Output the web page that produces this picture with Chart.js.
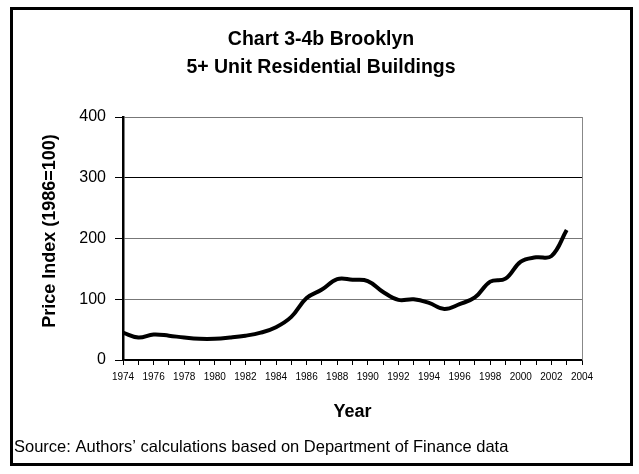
<!DOCTYPE html>
<html>
<head>
<meta charset="utf-8">
<script src="https://cdn.jsdelivr.net/npm/chart.js@4"></script>
<style>
  body { margin: 0; background: #fff; }
  #wrap { width: 639px; height: 474px; position: relative; }
</style>
</head>
<body>
<div id="wrap"><canvas id="chart"></canvas></div>
<script>
const years = [1974, 1975, 1976, 1977, 1978, 1979, 1980, 1981, 1982, 1983,
  1984, 1985, 1986, 1987, 1988, 1989, 1990, 1991, 1992, 1993,
  1994, 1995, 1996, 1997, 1998, 1999, 2000, 2001, 2002, 2003];
const priceIndex = [45, 37, 42, 40, 37, 35, 35, 37, 40, 45,
  54, 71, 102, 116, 133, 132, 130, 112, 99, 100,
  94, 84, 92, 103, 129, 134, 162, 169, 171, 214];
const yTicks = [0, 100, 200, 300, 400];
const titleLines = ['Chart 3-4b Brooklyn', '5+ Unit Residential Buildings'];
const yTitle = 'Price Index (1986=100)';
const sourceText = 'Source: Authors\u2019 calculations based on Department of Finance data';

const FONT = '"Liberation Sans", Arial, sans-serif';

// frame, titles and source note
const decorations = {
  id: 'decorations',
  afterDraw(chart) {
    const ctx = chart.ctx;
    const area = chart.chartArea;
    ctx.save();
    // plot area right edge
    ctx.strokeStyle = '#888';
    ctx.lineWidth = 1;
    ctx.beginPath();
    ctx.moveTo(area.right + 0.5, area.top);
    ctx.lineTo(area.right + 0.5, area.bottom);
    ctx.stroke();
    // outer frame
    ctx.strokeStyle = '#000';
    ctx.lineWidth = 3;
    ctx.strokeRect(11.5, 8.5, 620, 456);
    // chart title
    ctx.fillStyle = '#000';
    ctx.textAlign = 'center';
    ctx.textBaseline = 'middle';
    ctx.font = 'bold 19.5px ' + FONT;
    ctx.fillText(titleLines[0], 321, 40);
    ctx.fillText(titleLines[1], 321, 68);
    // y axis title
    ctx.save();
    ctx.translate(50, 231);
    ctx.rotate(-Math.PI / 2);
    ctx.font = 'bold 18px ' + FONT;
    ctx.fillText(yTitle, 0, 0);
    ctx.restore();
    // source
    ctx.textAlign = 'left';
    ctx.font = '16.5px ' + FONT;
    ctx.fillText(sourceText, 14, 447);
    ctx.restore();
  }
};

new Chart(document.getElementById('chart'), {
  type: 'line',
  data: {
    datasets: [{
      label: 'Price Index',
      data: years.map((y, i) => ({ x: y, y: priceIndex[i] })),
      borderColor: '#000',
      borderWidth: 4,
      pointRadius: 0,
      tension: 0.4,
      fill: false
    }]
  },
  options: {
    responsive: true,
    maintainAspectRatio: false,
    animation: false,
    layout: { padding: { left: 30, right: 57, top: 117, bottom: 50 } },
    plugins: {
      legend: { display: false },
      tooltip: { enabled: false }
    },
    scales: {
      x: {
        type: 'linear',
        min: 1974,
        max: 2004,
        afterFit: (scale) => { scale.height = 64; },
        afterBuildTicks: (scale) => {
          scale.ticks = [];
          for (let y = 1974; y <= 2004; y++) scale.ticks.push({ value: y });
        },
        ticks: {
          autoSkip: false,
          maxRotation: 0,
          padding: 6,
          color: '#000',
          font: { family: FONT, size: 10 },
          callback: (v) => (v % 2 === 0 ? String(v) : '')
        },
        grid: {
          drawOnChartArea: false,
          drawTicks: true,
          tickLength: 5,
          color: '#000'
        },
        border: { color: '#000', width: 1.5 },
        title: {
          display: true,
          text: 'Year',
          color: '#000',
          font: { family: FONT, size: 18, weight: 'bold' },
          padding: { top: 0, bottom: 1 }
        }
      },
      y: {
        min: 0,
        max: 400,
        afterFit: (scale) => { scale.width = 93; },
        afterBuildTicks: (scale) => {
          scale.ticks = yTicks.map((v) => ({ value: v }));
        },
        ticks: {
          padding: 9,
          color: '#000',
          font: { family: FONT, size: 16 }
        },
        grid: {
          drawTicks: true,
          tickLength: 8,
          tickColor: '#000',
          color: (c) => (c.tick && (c.tick.value === 300 || c.tick.value === 0) ? '#000' : '#777'),
          lineWidth: 1
        },
        border: { color: '#000', width: 2.5 }
      }
    }
  },
  plugins: [decorations]
});
</script>
</body>
</html>
